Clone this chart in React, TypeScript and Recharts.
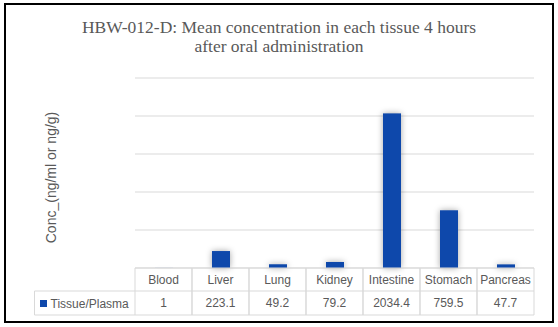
import React from 'react';
import { BarChart, Bar, XAxis, YAxis, CartesianGrid } from 'recharts';

const categories = ['Blood', 'Liver', 'Lung', 'Kidney', 'Intestine', 'Stomach', 'Pancreas'];
const values = [1, 223.1, 49.2, 79.2, 2034.4, 759.5, 47.7];
const valueLabels = ['1', '223.1', '49.2', '79.2', '2034.4', '759.5', '47.7'];
const yTicks = [0, 500, 1000, 1500, 2000, 2500];
const seriesName = 'Tissue/Plasma';
const titleLines = ['HBW-012-D: Mean concentration in each tissue 4 hours', 'after oral administration'];
const yLabel = 'Conc_(ng/ml or ng/g)';

const data = categories.map((c, i) => ({ name: c, value: values[i], label: valueLabels[i] }));

const W = 558;
const H = 327;
const M = { top: 78, right: 24, bottom: 0, left: 135 };
const AXIS_H = 59;
const CELL_W = (W - M.left - M.right) / categories.length;
const ROW1 = 23;
const ROW2 = 24;
const BLUE = '#0E48AB';
const GRID = '#D9D9D9';
const TXT = '#595959';
const FONT = '"Liberation Sans", Arial, sans-serif';

const TableTick = (props: any) => {
  const { x, y, index } = props;
  const left = x - CELL_W / 2;
  const right = x + CELL_W / 2;
  const top = y;
  const mid = y + ROW1;
  const bot = y + ROW1 + ROW2;
  const lc = { stroke: GRID, strokeWidth: 1 };
  return (
    <g>
      <line x1={left} x2={right} y1={top} y2={top} {...lc} />
      <line x1={left} x2={right} y1={mid} y2={mid} {...lc} />
      <line x1={left} x2={right} y1={bot} y2={bot} {...lc} />
      <line x1={left} x2={left} y1={top} y2={bot} {...lc} />
      <line x1={right} x2={right} y1={top} y2={bot} {...lc} />
      <text x={x} y={top + 16} textAnchor="middle" fontSize={12} fill={TXT} fontFamily={FONT}>
        {categories[index]}
      </text>
      <text x={x} y={mid + 16} textAnchor="middle" fontSize={12} fill={TXT} fontFamily={FONT}>
        {valueLabels[index]}
      </text>
      {index === 0 && (
        <g>
          <line x1={34.5} x2={left} y1={mid} y2={mid} {...lc} />
          <line x1={34.5} x2={left} y1={bot} y2={bot} {...lc} />
          <line x1={34.5} x2={34.5} y1={mid} y2={bot} {...lc} />
          <rect x={40} y={mid + 9} width={7} height={7} fill={BLUE} />
          <text x={50.5} y={mid + 17} fontSize={12} fill={TXT} fontFamily={FONT}>
            {seriesName}
          </text>
        </g>
      )}
    </g>
  );
};

const ShadowBar = (props: any) => {
  const { x, y, width, height } = props;
  if (height == null || width == null) return null;
  return (
    <rect
      x={x}
      y={y}
      width={width}
      height={Math.max(height, 0)}
      fill={BLUE}
      style={{ filter: 'drop-shadow(0px 0px 3px rgba(0,0,0,0.35))' }}
    />
  );
};

export default function App() {
  return (
    <div style={{ position: 'fixed', left: 0, top: 0, width: W, height: H, background: '#fff' }}>
      <BarChart width={W} height={H} data={data} margin={M}>
        <rect x={5} y={4} width={548} height={318} fill="none" stroke="#000" strokeWidth={2} />
        <text textAnchor="middle" fontFamily='"Liberation Serif", "Times New Roman", serif' fontSize={17.5} fill={TXT}>
          <tspan x={279} y={33}>{titleLines[0]}</tspan>
          <tspan x={279} y={52}>{titleLines[1]}</tspan>
        </text>
        <text
          x={51}
          y={177.5}
          transform="rotate(-90 51 177.5)"
          textAnchor="middle"
          dominantBaseline="central"
          fontFamily={FONT}
          fontSize={14}
          fill={TXT}
        >
          {yLabel}
        </text>
        <CartesianGrid vertical={false} stroke={GRID} />
        <YAxis hide domain={[0, 2500]} ticks={yTicks} />
        <XAxis
          dataKey="name"
          height={AXIS_H}
          axisLine={false}
          tickLine={false}
          tickSize={0}
          tickMargin={0}
          interval={0}
          tick={<TableTick />}
        />
        <Bar dataKey="value" barSize={18} isAnimationActive={false} shape={<ShadowBar />} />
      </BarChart>
    </div>
  );
}
